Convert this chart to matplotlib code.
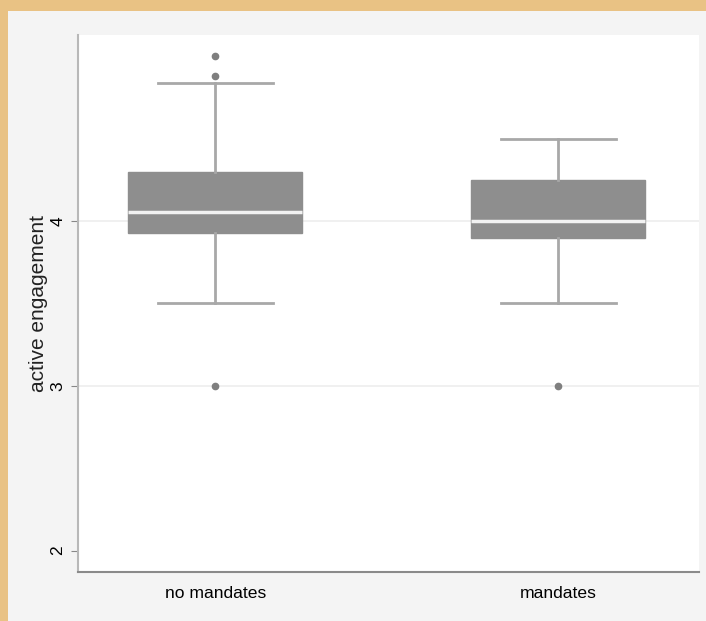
import matplotlib
matplotlib.use("Agg")
import matplotlib.pyplot as plt
from matplotlib.patches import Rectangle

categories = ["no mandates", "mandates"]
q1 = [3.93, 3.90]
medians = [4.055, 4.00]
q3 = [4.30, 4.25]
whislo = [3.5, 3.5]
whishi = [4.84, 4.5]
fliers = [[5.0, 4.88, 3.0], [3.0]]
yticks = [2, 3, 4]
ylabel = "active engagement"

plt.rcParams['font.family'] = ['Liberation Sans', 'DejaVu Sans']

fig = plt.figure(figsize=(7.06, 6.21), dpi=100, facecolor="#F4F4F4")
# orange frame (left and top)
fig.patches.append(Rectangle((0, 0), 8/706, 1, transform=fig.transFigure,
                             facecolor="#E9C284", edgecolor="none", zorder=0))
fig.patches.append(Rectangle((0, 1 - 11/621), 1, 11/621, transform=fig.transFigure,
                             facecolor="#E9C284", edgecolor="none", zorder=0))

ax = fig.add_axes([78/706, 49/621, 621/706, 537/621])
ax.set_facecolor("white")

stats = []
for i, c in enumerate(categories):
    stats.append(dict(label=c, q1=q1[i], med=medians[i], q3=q3[i],
                      whislo=whislo[i], whishi=whishi[i], fliers=fliers[i]))

ax.bxp(stats, positions=[1, 2], widths=0.507, patch_artist=True,
       boxprops=dict(facecolor="#8E8E8E", edgecolor="#8E8E8E", linewidth=1),
       medianprops=dict(color="#F2F2F2", linewidth=2.5),
       whiskerprops=dict(color="#A8A8A8", linewidth=2),
       capprops=dict(color="#A8A8A8", linewidth=2),
       capwidths=0.335,
       flierprops=dict(marker="o", markerfacecolor="#7F7F7F", markeredgecolor="#7F7F7F",
                       markersize=4.5))

ax.set_xlim(0.6, 2.41)
ax.set_ylim(1.87, 5.13)
ax.set_yticks(yticks)
ax.set_yticklabels([str(t) for t in yticks], rotation=90, va="center", fontsize=12.5)
for t in yticks[1:]:
    ax.axhline(t, color="#EEEEEE", linewidth=1.2, zorder=0)
ax.tick_params(axis="y", length=5, color="#888888", pad=4)
ax.tick_params(axis="x", length=0, pad=10, labelsize=12.6)
ax.set_ylabel(ylabel, fontsize=15, labelpad=2, color="#222222")

for s in ["top", "right"]:
    ax.spines[s].set_visible(False)
ax.spines["left"].set_color("#B8B8B8")
ax.spines["left"].set_linewidth(1.5)
ax.spines["bottom"].set_color("#8A8A8A")
ax.spines["bottom"].set_linewidth(1.5)

fig.savefig("out.png", dpi=100, facecolor=fig.get_facecolor())
